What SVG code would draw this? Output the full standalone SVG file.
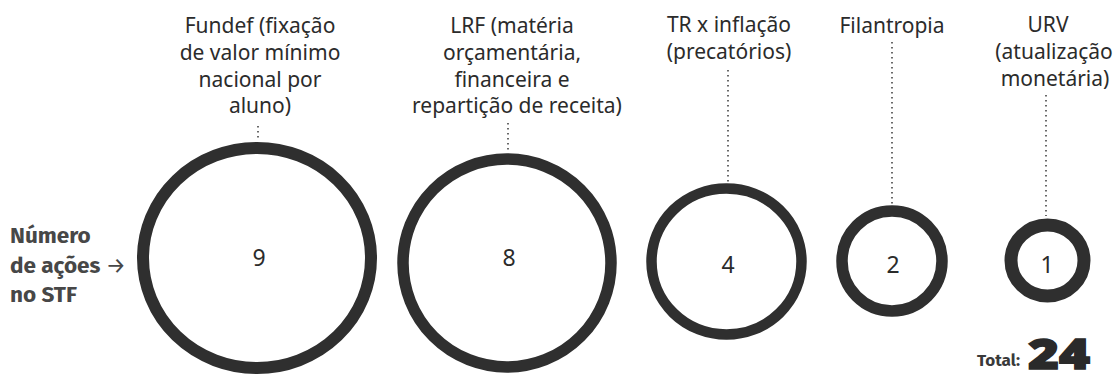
<svg xmlns="http://www.w3.org/2000/svg" width="1115" height="382" viewBox="0 0 1115 382">
<style>
.lbl{font-family:"Noto Sans","Open Sans",sans-serif;font-size:21px;fill:#2b2b2b;text-anchor:middle}
.num{font-family:"Noto Sans","Open Sans",sans-serif;font-size:23px;fill:#2b2b2b;text-anchor:middle}
.ring{fill:none;stroke:#2f2f2f}
.dot{stroke:#444;stroke-width:1.6;stroke-dasharray:1.5 3.5;fill:none}
.side{font-family:"Fira Sans","Noto Sans","Open Sans",sans-serif;font-size:22.5px;font-weight:bold;fill:#474747}
</style>
<rect width="1115" height="382" fill="#ffffff"/>
<g id="connectors">
<line class="dot" x1="258" y1="126" x2="258" y2="141"/>
<line class="dot" x1="508" y1="123" x2="508" y2="151"/>
<line class="dot" x1="728" y1="70" x2="728" y2="182"/>
<line class="dot" x1="892" y1="42" x2="892" y2="204"/>
<line class="dot" x1="1046" y1="95" x2="1046" y2="216"/>
</g>
<g id="left-label">
<text class="side" x="10" y="243">Número</text>
<text class="side" x="10" y="273">de ações <tspan font-weight="normal">→</tspan></text>
<text class="side" x="10" y="302">no STF</text>
</g>
<g id="node-fundef">
<text class="lbl" x="260" y="33">Fundef (fixação</text>
<text class="lbl" x="260" y="60">de valor mínimo</text>
<text class="lbl" x="260" y="86.5">nacional por</text>
<text class="lbl" x="260" y="113">aluno)</text>
<ellipse class="ring" stroke-width="12" cx="257" cy="258" rx="114" ry="110"/>
<text class="num" x="259" y="266">9</text>
</g>
<g id="node-lrf">
<text class="lbl" x="512" y="33">LRF (matéria</text>
<text class="lbl" x="512" y="60">orçamentária,</text>
<text class="lbl" x="512" y="86.5">financeira e</text>
<text class="lbl" x="517" y="113">repartição de receita)</text>
<ellipse class="ring" stroke-width="11.5" cx="507" cy="263" rx="104" ry="104"/>
<text class="num" x="509" y="266">8</text>
</g>
<g id="node-tr">
<text class="lbl" x="729" y="32">TR x inflação</text>
<text class="lbl" x="729" y="59">(precatórios)</text>
<ellipse class="ring" stroke-width="10.5" cx="726.5" cy="261.5" rx="75" ry="73"/>
<text class="num" x="728" y="273">4</text>
</g>
<g id="node-filantropia">
<text class="lbl" x="892" y="33">Filantropia</text>
<circle class="ring" stroke-width="11.5" cx="892" cy="261" r="50"/>
<text class="num" x="893" y="273">2</text>
</g>
<g id="node-urv">
<text class="lbl" x="1048" y="32">URV</text>
<text class="lbl" x="1054" y="59" font-size="20">(atualização</text>
<text class="lbl" x="1055" y="86" font-size="20">monetária)</text>
<ellipse class="ring" stroke-width="13" cx="1047.5" cy="260.5" rx="36.5" ry="35.5"/>
<text class="num" x="1047" y="273">1</text>
</g>
<g id="total">
<text x="977" y="366" font-family="Fira Sans,Noto Sans,Open Sans,sans-serif" font-size="17" font-weight="bold" fill="#3a3a3a">Total:</text>
<text x="1028" y="369" font-family="Noto Sans,Open Sans,sans-serif" font-size="42" font-weight="900" fill="#2a2a2a" stroke="#2a2a2a" stroke-width="1.5" textLength="62" lengthAdjust="spacingAndGlyphs">24</text>
</g>
</svg>
